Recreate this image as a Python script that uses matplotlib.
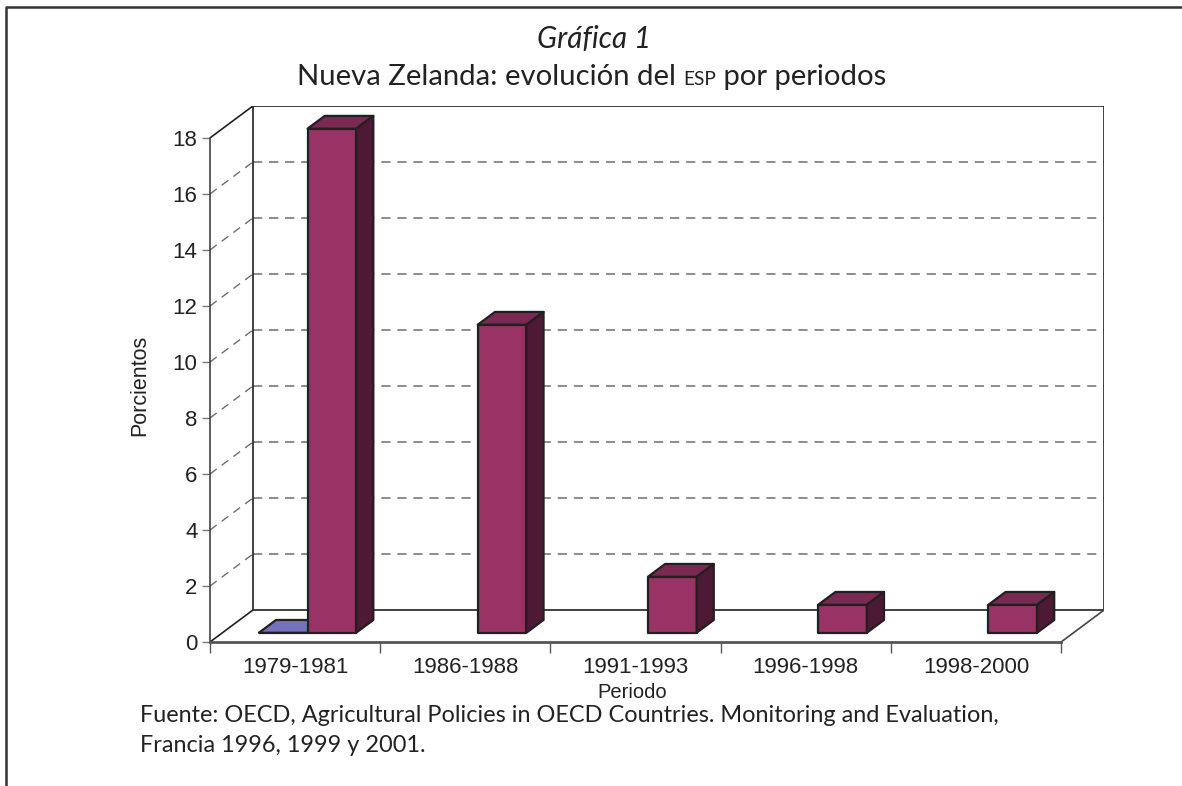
import matplotlib
matplotlib.use("Agg")
import matplotlib.pyplot as plt
from matplotlib.patches import Polygon

# ---------------- data ----------------
categories = ["1979-1981", "1986-1988", "1991-1993", "1996-1998", "1998-2000"]
serie_azul = [0.0, None, None, None, None]     # second (flat) series
serie_esp = [18.0, 11.0, 2.0, 1.0, 1.0]        # ESP in percent
y_ticks = [0, 2, 4, 6, 8, 10, 12, 14, 16, 18]

title1 = "Gráfica 1"
title2a = "Nueva Zelanda: evolución del "
title2b = "ESP"
title2c = " por periodos"
ylabel = "Porcientos"
xlabel = "Periodo"
source1 = "Fuente: OECD, Agricultural Policies in OECD Countries. Monitoring and Evaluation,"
source2 = "Francia 1996, 1999 y 2001."

# ---------------- style ----------------
W, H = 1182, 786
DPI = 100
FRONT = "#993366"
TOP = "#7a2a52"
SIDE = "#4d1934"
BLUE_TOP = "#7373bb"
EDGE = "#231f20"
GRID = "#6e6e6e"
AXISFONT = ["Liberation Sans", "DejaVu Sans"]
TITLEFONT = ["Lato", "DejaVu Sans"]

YMAX = 18
DX = 0.252      # depth offset in category units
DY = 1.14       # depth offset in value units
D0, D1 = 0.29, 0.69   # bar depth range (fraction)
GAP = 1.5       # gap width (relative to bar width)

fig = plt.figure(figsize=(W / DPI, H / DPI), dpi=DPI)
n = len(categories)

def fx(px):
    return px / W

def fy(py):
    return 1 - py / H

ax = fig.add_axes([fx(210), fy(642), fx(1104) - fx(210), fy(106) - fy(642)])
ax.set_xlim(0, n + DX)
ax.set_ylim(0, YMAX + DY)
ax.set_facecolor("none")

for s in ["top", "right"]:
    ax.spines[s].set_visible(False)
ax.spines["left"].set_bounds(0, YMAX)
ax.spines["left"].set_color("#333333")
ax.spines["left"].set_linewidth(1.1)
ax.spines["bottom"].set_bounds(0, n)
ax.spines["bottom"].set_color("#555555")
ax.spines["bottom"].set_linewidth(2.0)

ax.set_yticks(y_ticks)
ax.set_yticklabels([str(t) for t in y_ticks], fontsize=16, family=AXISFONT, color="#222222")
ax.tick_params(axis="y", direction="out", length=6, width=1.0, color="#777777", pad=3)

ax.set_xticks(range(n + 1))
ax.set_xticklabels([])
ax.tick_params(axis="x", which="major", direction="out", length=8, width=1.0, color="#555555")
ax.set_xticks([i + 0.5 for i in range(n)], minor=True)
ax.set_xticklabels(categories, minor=True, fontsize=16, family=AXISFONT, color="#222222")
ax.tick_params(axis="x", which="minor", length=0, pad=11)

# ---- walls ----
lk = dict(color=EDGE, lw=1.2, solid_capstyle="butt", zorder=2)
ax.plot([DX, DX, n + DX, n + DX], [YMAX + DY, DY, DY, YMAX + DY], **lk)
ax.plot([DX, n + DX], [YMAX + DY, YMAX + DY], **lk)
ax.plot([0, DX], [YMAX, YMAX + DY], **lk)
ax.plot([0, DX], [0, DY], **lk)
ax.plot([n, n + DX], [0, DY], color="#444444", lw=1.2, zorder=2)

for v in y_ticks[1:-1]:
    ax.plot([DX, n + DX], [v + DY, v + DY], color=GRID, lw=1.1, dashes=(6, 4.5), zorder=1)
    ax.plot([0, DX], [v, v + DY], color=GRID, lw=1.0, dashes=(6, 4.5), zorder=1)

# ---- bars ----
bw = 1.0 / (2 + GAP)
left_gap = (1 - 2 * bw) / 2

def bar3d(x0, x1, v, cf, ct, cs, z):
    a, b = D0, D1
    front = [(x0 + a * DX, a * DY), (x1 + a * DX, a * DY),
             (x1 + a * DX, v + a * DY), (x0 + a * DX, v + a * DY)]
    top = [(x0 + a * DX, v + a * DY), (x1 + a * DX, v + a * DY),
           (x1 + b * DX, v + b * DY), (x0 + b * DX, v + b * DY)]
    side = [(x1 + a * DX, a * DY), (x1 + b * DX, b * DY),
            (x1 + b * DX, v + b * DY), (x1 + a * DX, v + a * DY)]
    for poly, c in ((front, cf), (top, ct), (side, cs)):
        ax.add_patch(Polygon(poly, closed=True, facecolor=c, edgecolor=EDGE,
                             lw=1.6, joinstyle="round", zorder=z))

z = 5
for i in range(n):
    if serie_azul[i] is not None:
        x0 = i + left_gap
        bar3d(x0, x0 + bw, serie_azul[i], BLUE_TOP, BLUE_TOP, BLUE_TOP, z)
        z += 1
    if serie_esp[i] is not None:
        x0 = i + left_gap + bw
        bar3d(x0, x0 + bw, serie_esp[i], FRONT, TOP, SIDE, z)
        z += 1

# ---- text ----
fig.text(fx(140), fy(385), ylabel, rotation=90, ha="center", va="center",
         fontsize=15.5, family=AXISFONT, color="#222222")
fig.text(fx(632), fy(692), xlabel, ha="center", va="center",
         fontsize=14.5, family=AXISFONT, color="#222222")

renderer = fig.canvas.get_renderer()

def fit(t, target_px):
    w = t.get_window_extent(renderer).width
    t.set_fontsize(t.get_fontsize() * target_px / w)

t1 = fig.text(fx(594), fy(48), title1, ha="center", va="baseline",
              fontsize=20, family=TITLEFONT, style="italic", color="#222222")
fit(t1, 114)

ta = fig.text(fx(297), fy(85), title2a, ha="left", va="baseline",
              fontsize=20, family=TITLEFONT, color="#222222")
tb = fig.text(fx(297), fy(85), title2b, ha="left", va="baseline",
              fontsize=13, family=TITLEFONT, color="#222222")
tc = fig.text(fx(297), fy(85), title2c, ha="left", va="baseline",
              fontsize=20, family=TITLEFONT, color="#222222")
wa = ta.get_window_extent(renderer).width
wb = tb.get_window_extent(renderer).width
wc = tc.get_window_extent(renderer).width
scale = 589 / (wa + wb + wc)
for t in (ta, tb, tc):
    t.set_fontsize(t.get_fontsize() * scale)
wa, wb = wa * scale, wb * scale
ta.set_position((fx(297), fy(85)))
tb.set_position((fx(297 + wa), fy(85)))
tc.set_position((fx(297 + wa + wb), fy(85)))

s1 = fig.text(fx(140), fy(722), source1, ha="left", va="baseline",
              fontsize=16, family=TITLEFONT, color="#222222")
fit(s1, 863)
s2 = fig.text(fx(140), fy(752), source2, ha="left", va="baseline",
              fontsize=s1.get_fontsize(), family=TITLEFONT, color="#222222")

# ---- frame ----
fig.add_artist(plt.Line2D([fx(6), fx(6), 1], [0, fy(7), fy(7)],
                          color="#333333", lw=1.8, transform=fig.transFigure))

fig.savefig("out.png", dpi=DPI)
